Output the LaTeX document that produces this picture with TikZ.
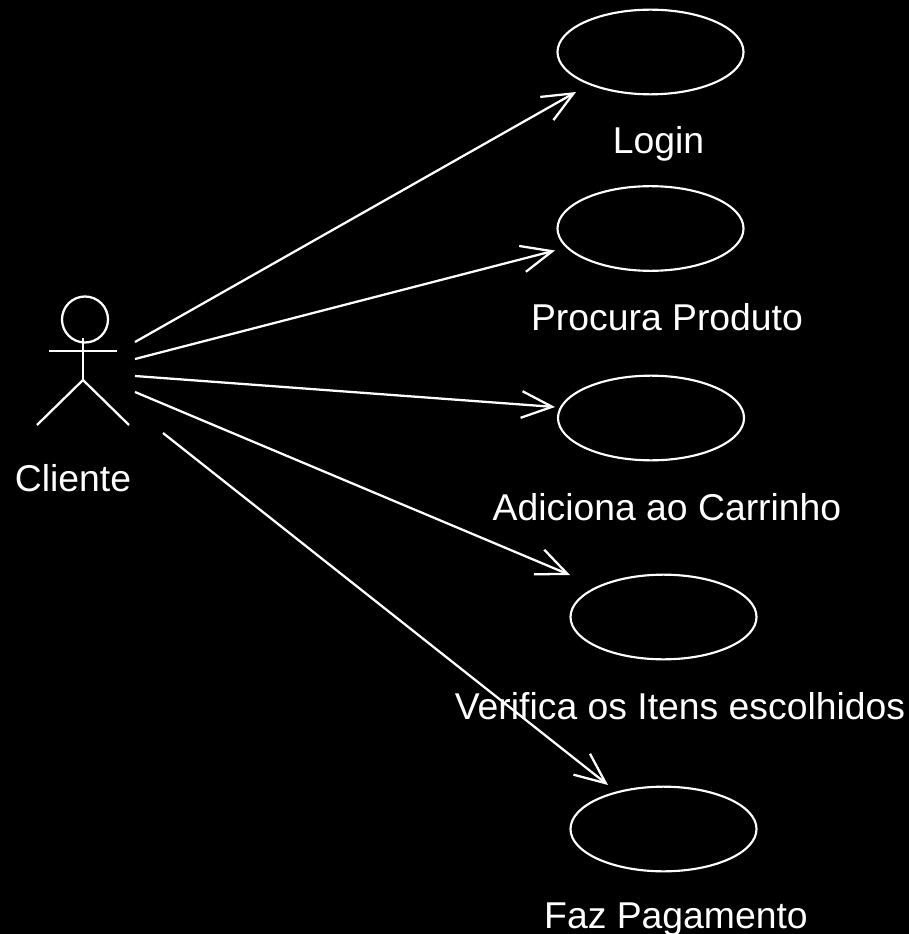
\documentclass[tikz,border=0pt]{standalone}
\usepackage{fontspec}
\setmainfont{Liberation Sans}
\usetikzlibrary{shapes.geometric,arrows.meta}
\tikzset{
 x=0.75pt,y=-0.75pt,
 uc/.style={draw=white,line width=1.6pt,ellipse,minimum width=139.5pt,minimum height=63.5pt,inner sep=0pt},
 lbl/.style={text=white,font=\fontsize{28pt}{32pt}\selectfont,inner sep=0pt,anchor=base},
 link/.style={draw=white,line width=1.7pt,-{Straight Barb[length=23pt,width=20pt,line width=1.7pt]}},
 stick/.style={draw=white,line width=1.7pt}
}
\begin{document}
\begin{tikzpicture}
\fill[black] (0,0) rectangle (909,934);
\useasboundingbox (0,0) rectangle (909,934);
\node[uc] (u1) at (650.5,52) {};
\node[uc] (u2) at (650.5,228.5) {};
\node[uc] (u3) at (651,418) {};
\node[uc] (u4) at (663.5,617) {};
\node[uc] (u5) at (663.5,829) {};
\node[lbl] (l1) at (658.5,153.5) {Login};
\node[lbl] (l2) at (667,330) {Procura Produto};
\node[lbl] (l3) at (667,520) {Adiciona ao Carrinho};
\node[lbl] (l4) at (680,719) {Verifica os Itens escolhidos};
\node[lbl] (l5) at (676,928) {Faz Pagamento};
\node[lbl] (l0) at (73,491.5) {Cliente};
\node[stick,circle,minimum size=34.5pt,inner sep=0pt] (head) at (85,319.5) {};
\coordinate (neck) at (83,338);
\coordinate (armL) at (49,351);
\coordinate (armR) at (117,351);
\coordinate (hip) at (83,380);
\coordinate (legL) at (37,425);
\coordinate (legR) at (129,425);
\draw[stick] (neck) -- (hip);
\draw[stick] (armL) -- (armR);
\draw[stick] (legL) -- (hip) -- (legR);
\coordinate (s1) at (135,342); \coordinate (e1) at (576,92);
\coordinate (s2) at (135,359); \coordinate (e2) at (555,250.5);
\coordinate (s3) at (135,376); \coordinate (e3) at (555,407);
\coordinate (s4) at (135,392); \coordinate (e4) at (570,575);
\coordinate (s5) at (163,433); \coordinate (e5) at (608,785);
\foreach \i in {1,...,5} \draw[link] (s\i) -- (e\i);
\end{tikzpicture}
\end{document}
